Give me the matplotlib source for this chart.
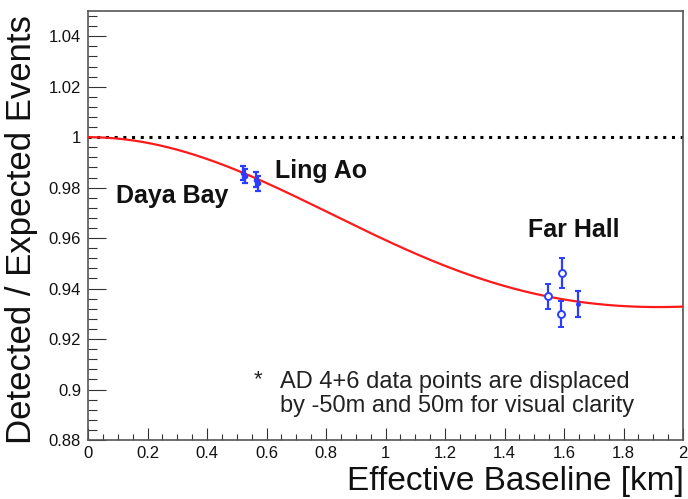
import matplotlib
matplotlib.use("Agg")
import matplotlib.pyplot as plt
import numpy as np
from matplotlib.ticker import MultipleLocator, FuncFormatter

# measured detector ratios, near halls (filled) and far hall
near_baseline = [0.520, 0.527, 0.564, 0.570]
near_ratio = [0.9858, 0.9846, 0.9832, 0.9818]
near_err = [0.0028, 0.0028, 0.0030, 0.0030]

far_open_baseline = [1.545, 1.593, 1.590]
far_open_ratio = [0.9369, 0.9463, 0.9299]
far_open_err = [0.0050, 0.0060, 0.0050]

far_solid_baseline = [1.648]
far_solid_ratio = [0.9339]
far_solid_err = [0.0050]

hall_names = ["Daya Bay", "Ling Ao", "Far Hall"]
hall_text_pos = [(0.282, 0.9767), (0.785, 0.9866), (1.634, 0.9632)]

# oscillation model used for the red curve
sin2_2theta13 = 0.081
dm2_ee = 2.55e-3          # eV^2
spec_mean, spec_sigma = 4.3, 1.25   # MeV, rough IBD spectrum shape

font = ["Liberation Sans", "DejaVu Sans"]
plt.rcParams["font.family"] = font

fig = plt.figure(figsize=(6.88, 4.99), dpi=100)
ax = fig.add_axes([88/688, 1 - 440/499, (683 - 88)/688, (440 - 11)/499])

L = np.linspace(0, 2, 400)
E = np.linspace(1.8, 9.0, 400)
w = np.exp(-0.5*((E - spec_mean)/spec_sigma)**2)
w /= w.sum()
phase = 1.267*dm2_ee*1000*L[:, None]/E[None, :]
survival = 1 - sin2_2theta13*(np.sin(phase)**2 @ w)

ax.plot([0, 2], [1, 1], color="black", lw=2.2, ls=(0, (1, 1.85)), zorder=2)
ax.plot(L, survival, color="#ff1a1a", lw=1.6, zorder=3)

blue = "#2b3dff"
ax.errorbar(near_baseline, near_ratio, yerr=near_err, fmt="o", ms=3,
            color=blue, mfc=blue, ecolor=blue, elinewidth=1.6, capsize=2.5,
            capthick=1.6, zorder=4)
ax.errorbar(far_open_baseline, far_open_ratio, yerr=far_open_err, fmt="o",
            ms=5, color=blue, mfc="white", mec=blue, mew=1.4, ecolor=blue,
            elinewidth=1.6, capsize=2.5, capthick=1.6, zorder=4)
ax.errorbar(far_solid_baseline, far_solid_ratio, yerr=far_solid_err, fmt="o",
            ms=2.5, color=blue, ecolor=blue, elinewidth=1.6, capsize=2.5,
            capthick=1.6, zorder=4)

for name, (x, y) in zip(hall_names, hall_text_pos):
    ax.text(x, y, name, fontsize=18, fontweight="bold", ha="center",
            va="center", color="#111111")

ax.text(0.570, 0.9040, "*", fontsize=16, ha="center", va="center", color="#222222")
ax.text(0.644, 0.8983, "AD 4+6 data points are displaced\nby -50m and 50m for visual clarity",
        fontsize=17, ha="left", va="center", linespacing=1.12, color="#222222")

ax.set_xlim(0, 2)
ax.set_ylim(0.88, 1.05)
ax.xaxis.set_major_locator(MultipleLocator(0.2))
ax.xaxis.set_minor_locator(MultipleLocator(0.05))
ax.yaxis.set_major_locator(MultipleLocator(0.02))
ax.yaxis.set_minor_locator(MultipleLocator(0.004))
fmt = FuncFormatter(lambda v, p: f"{v:.2f}".rstrip("0").rstrip("."))
ax.xaxis.set_major_formatter(fmt)
ax.yaxis.set_major_formatter(fmt)

ax.tick_params(axis="y", which="major", direction="in", length=13, width=0.8,
               labelsize=12, pad=5, colors="#333333")
ax.tick_params(axis="y", which="minor", direction="in", length=6.5, width=0.8,
               colors="#333333")
ax.tick_params(axis="x", which="major", direction="in", length=9, width=0.8,
               labelsize=12, pad=4, colors="#333333")
ax.tick_params(axis="x", which="minor", direction="in", length=4.5, width=0.8,
               colors="#333333")
for lab in ax.get_xticklabels() + ax.get_yticklabels():
    lab.set_color("#111111")
for sp in ax.spines.values():
    sp.set_color("#555555")
    sp.set_linewidth(1.2)

fig.text(22/688, 1 - 15/499, "Detected / Expected Events", rotation=90,
         fontsize=25, ha="center", va="top", color="#111111")
fig.text(684/688, 2/499, "Effective Baseline [km]", fontsize=24,
         ha="right", va="bottom", color="#111111")

fig.savefig("out.png", dpi=100)
